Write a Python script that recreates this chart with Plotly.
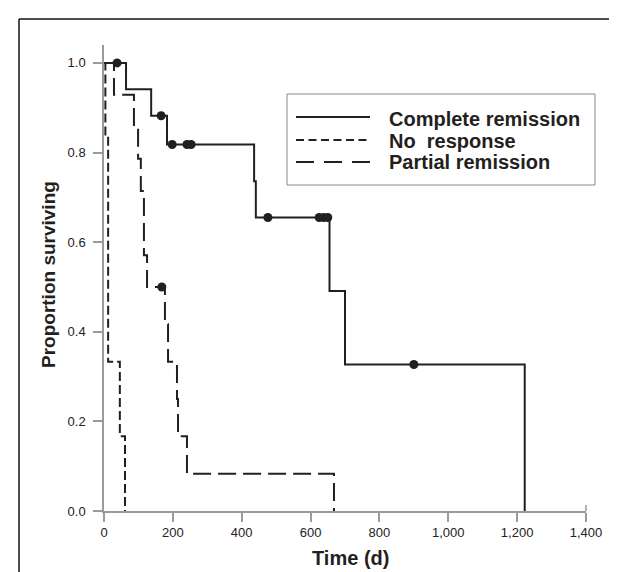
import plotly.graph_objects as go

# ---------------- data ----------------
cr_time = [0, 64, 137, 183, 436, 441, 655, 700, 1222]
cr_surv = [1.0, 0.941, 0.882, 0.818, 0.736, 0.655, 0.491, 0.327, 0.0]
cr_cens_time = [38, 166, 198, 241, 253, 476, 625, 638, 650, 900]
cr_cens_surv = [1.0, 0.882, 0.818, 0.818, 0.818, 0.655, 0.655, 0.655, 0.655, 0.327]

nr_time = [0, 4, 12, 46, 61]
nr_surv = [1.0, 0.833, 0.333, 0.167, 0.0]

pr_time = [0, 29, 87, 99, 107, 116, 125, 177, 186, 212, 215, 241, 668]
pr_surv = [1.0, 0.929, 0.857, 0.786, 0.714, 0.571, 0.5, 0.417, 0.333, 0.25, 0.167, 0.083, 0.0]
pr_cens_time = [168]
pr_cens_surv = [0.5]

x_tickvals = [0, 200, 400, 600, 800, 1000, 1200, 1400]
x_ticktext = ["0", "200", "400", "600", "800", "1,000", "1,200", "1,400"]
y_tickvals = [0.0, 0.2, 0.4, 0.6, 0.8, 1.0]

legend_names = ["Complete remission", "No  response", "Partial remission"]

# ---------------- layout geometry ----------------
W, H = 617, 572
ML, MR, MT, MB = 96, 39, 37, 69
PW, PH = W - ML - MR, H - MT - MB

def px_x(p):
    return (p - ML) / PW

def px_y(p):
    return (H - MB - p) / PH

INK = "#231f20"
AX = "#9a9a9a"
FONT = "Liberation Sans, Arial, sans-serif"

fig = go.Figure()

fig.add_trace(go.Scatter(x=cr_time, y=cr_surv, mode="lines", line_shape="hv",
                         line=dict(color=INK, width=2), name=legend_names[0]))
fig.add_trace(go.Scatter(x=nr_time, y=nr_surv, mode="lines", line_shape="hv",
                         line=dict(color=INK, width=2, dash="9px,4px"), name=legend_names[1]))
fig.add_trace(go.Scatter(x=pr_time, y=pr_surv, mode="lines", line_shape="hv",
                         line=dict(color=INK, width=2, dash="18px,7px"), name=legend_names[2]))
fig.add_trace(go.Scatter(x=cr_cens_time, y=cr_cens_surv, mode="markers",
                         marker=dict(color=INK, size=9), showlegend=False))
fig.add_trace(go.Scatter(x=pr_cens_time, y=pr_cens_surv, mode="markers",
                         marker=dict(color=INK, size=9), showlegend=False))

shapes = []
# outer frame (top and left edges)
shapes.append(dict(type="line", xref="paper", yref="paper",
                   x0=px_x(11), x1=px_x(625), y0=px_y(11), y1=px_y(11),
                   line=dict(color="#111", width=1.5)))
shapes.append(dict(type="line", xref="paper", yref="paper",
                   x0=px_x(11), x1=px_x(11), y0=px_y(11), y1=px_y(580),
                   line=dict(color="#111", width=1.5)))
# axis extensions beyond origin
shapes.append(dict(type="line", xref="paper", yref="paper",
                   x0=px_x(87), x1=0, y0=0, y1=0, line=dict(color=AX, width=1.5)))
shapes.append(dict(type="line", xref="paper", yref="paper",
                   x0=0, x1=0, y0=px_y(512), y1=0, line=dict(color=AX, width=1.5)))
shapes.append(dict(type="line", xref="paper", yref="paper",
                   x0=1, x1=1, y0=0, y1=px_y(497), line=dict(color=AX, width=1.5)))
# legend box
shapes.append(dict(type="rect", xref="paper", yref="paper",
                   x0=px_x(279), x1=px_x(587), y0=px_y(177), y1=px_y(86),
                   line=dict(color="#8a8a8a", width=1), fillcolor="white", layer="below"))
dashes = ["solid", "8px,4.5px", "18px,10px"]
rows_line = [109, 132, 154]
rows_text = [111, 132.5, 153.5]
annotations = []
for name, dsh, yl, yt in zip(legend_names, dashes, rows_line, rows_text):
    shapes.append(dict(type="line", xref="paper", yref="paper",
                       x0=px_x(288), x1=px_x(362), y0=px_y(yl), y1=px_y(yl),
                       line=dict(color=INK, width=2, dash=dsh)))
    annotations.append(dict(text="<b>" + name.replace("  ", "&nbsp; ") + "</b>",
                            xref="paper", yref="paper",
                            x=px_x(379), y=px_y(yt), xanchor="left", yanchor="middle",
                            showarrow=False, font=dict(family=FONT, size=20, color=INK)))

annotations.append(dict(text="<b>Time (d)</b>", xref="paper", yref="paper",
                        x=px_x(342), y=px_y(550), xanchor="center", yanchor="middle",
                        showarrow=False, font=dict(family=FONT, size=20, color=INK)))
annotations.append(dict(text="<b>Proportion surviving</b>", xref="paper", yref="paper",
                        x=px_x(40), y=px_y(267), xanchor="center", yanchor="middle",
                        textangle=-90, showarrow=False,
                        font=dict(family=FONT, size=19, color=INK)))

fig.update_layout(
    width=W, height=H,
    margin=dict(l=ML, r=MR, t=MT, b=MB, pad=0),
    paper_bgcolor="white", plot_bgcolor="white",
    showlegend=False,
    shapes=shapes, annotations=annotations,
    xaxis=dict(range=[0, 1400], tickvals=x_tickvals, ticktext=x_ticktext,
               showgrid=False, zeroline=False, showline=True, linecolor=AX, linewidth=1.5,
               ticks="outside", ticklen=9, tickwidth=1.5, tickcolor=AX,
               tickfont=dict(family=FONT, size=13, color="#222")),
    yaxis=dict(range=[0, 1.04], tickvals=y_tickvals, tickformat=".1f",
               showgrid=False, zeroline=False, showline=True, linecolor=AX, linewidth=1.5,
               ticks="outside", ticklen=9, tickwidth=1.5, tickcolor=AX, ticklabelstandoff=5,
               tickfont=dict(family=FONT, size=13, color="#222")),
)

fig.write_html("out.html")
